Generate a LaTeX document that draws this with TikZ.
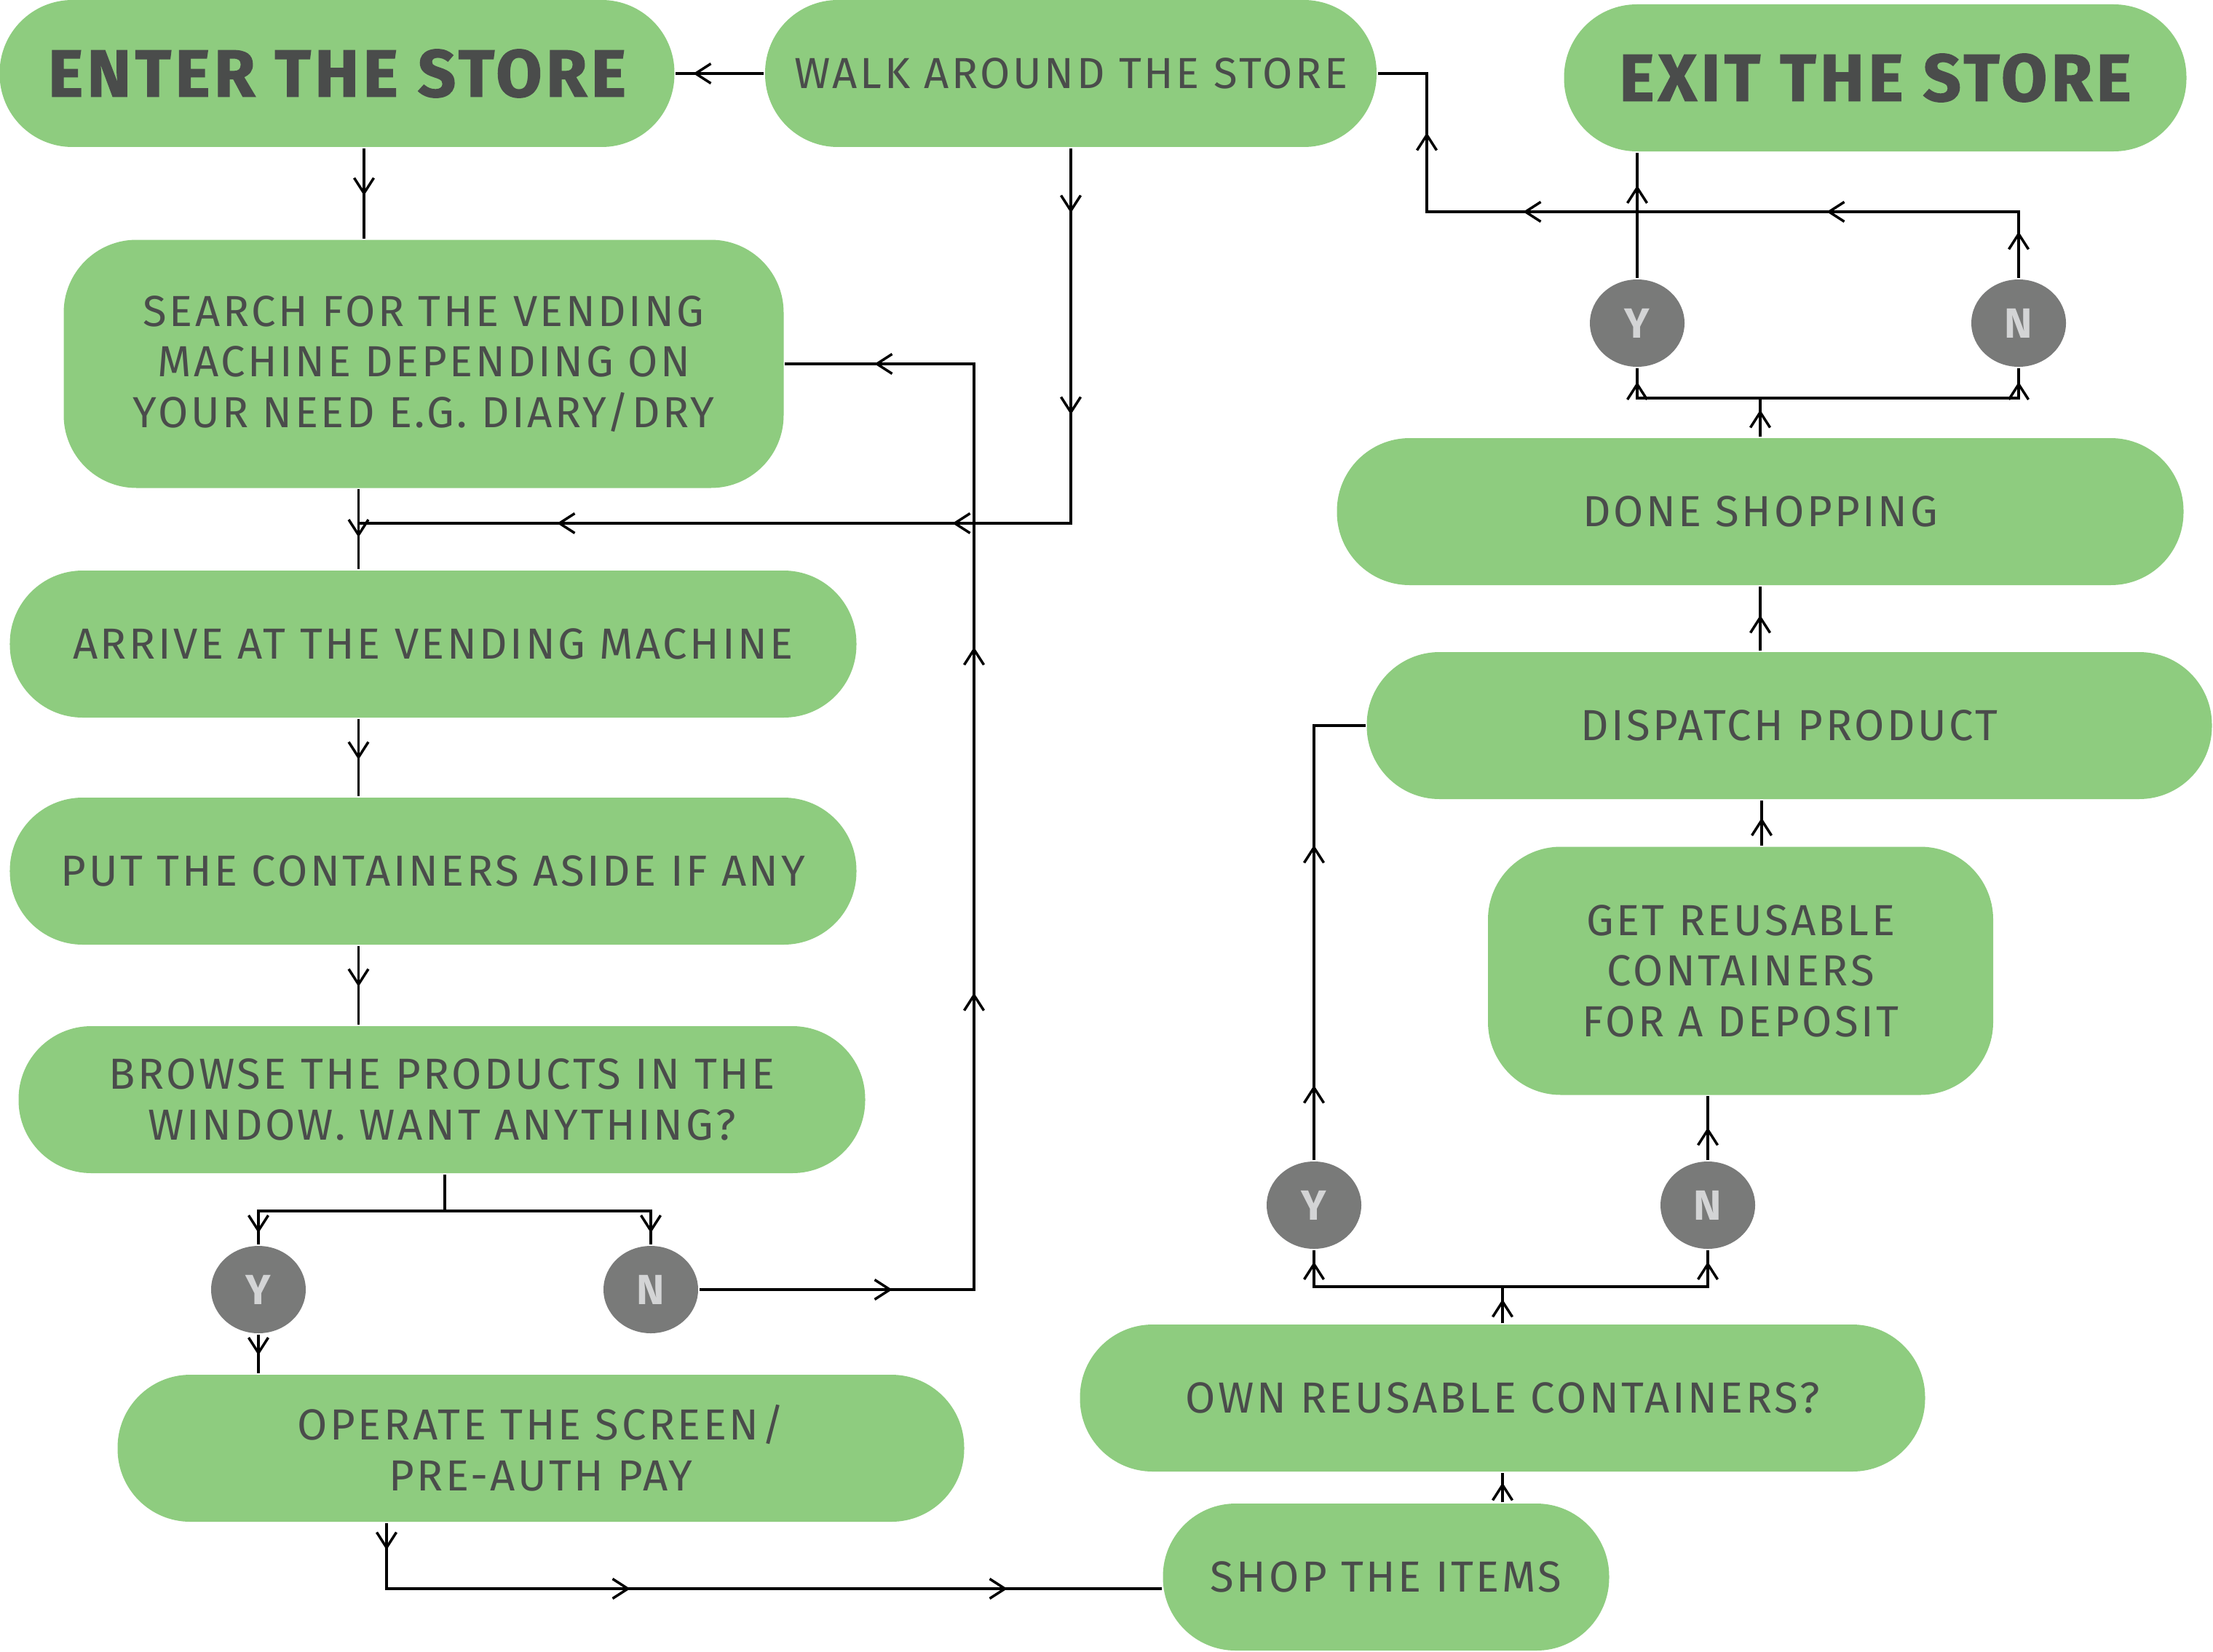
\documentclass[tikz,border=0pt]{standalone}
\usepackage{fontspec}
\setmainfont{Fira Sans}
\newfontfamily\bodyfont[LetterSpace=6]{Fira Sans}
\newfontfamily\headfont[LetterSpace=6,BoldFeatures={FakeBold=1.5}]{Fira Sans}
\usetikzlibrary{arrows.meta,shapes.geometric,decorations.markings}
\definecolor{boxgreen}{RGB}{142,204,127}
\definecolor{txtgrey}{RGB}{74,76,75}
\definecolor{dotgrey}{RGB}{121,122,121}
\definecolor{dottxt}{RGB}{211,212,213}
\begin{document}
\begin{tikzpicture}[line width=1pt,
  stepbox/.style={fill=boxgreen,rounded corners=1cm,minimum height=2.02cm,inner sep=0pt,align=center,text=txtgrey,font=\bodyfont\fontsize{17}{19.8}\selectfont},
  headbox/.style={stepbox,font=\headfont\fontsize{26}{30}\selectfont\bfseries},
  ynode/.style={ellipse,fill=dotgrey,minimum width=1.3cm,minimum height=1.2cm,inner sep=0pt,text=dottxt,font=\fontsize{16.5}{19}\selectfont\bfseries},
  midarr/.style={postaction={decorate,decoration={markings,mark=at position #1 with {\arrow{Straight Barb[length=2.1mm,width=2.7mm]}}}}}]
  \useasboundingbox (0,0) rectangle (30.4,-22.69);
  \node[headbox,minimum width=9.27cm] (enter) at (4.63,-1.01) {ENTER THE STORE};
  \node[stepbox,minimum width=8.40cm] (walk) at (14.71,-1.01) {WALK AROUND THE STORE};
  \node[headbox,minimum width=8.55cm] (exit) at (25.76,-1.07) {EXIT THE STORE};
  \node[stepbox,minimum width=9.89cm,minimum height=3.41cm] (search) at (5.82,-5.00) {SEARCH FOR THE VENDING\\MACHINE DEPENDING ON\\YOUR NEED E.G. DIARY/DRY};
  \node[stepbox,minimum width=11.63cm] (arrive) at (5.95,-8.85) {ARRIVE AT THE VENDING MACHINE};
  \node[stepbox,minimum width=11.63cm] (put) at (5.95,-11.97) {PUT THE CONTAINERS ASIDE IF ANY};
  \node[stepbox,minimum width=11.63cm] (browse) at (6.07,-15.11) {BROWSE THE PRODUCTS IN THE\\WINDOW. WANT ANYTHING?};
  \node[ynode] (yL) at (3.55,-17.72) {Y};
  \node[ynode] (nL) at (8.94,-17.72) {N};
  \node[stepbox,minimum width=11.63cm] (operate) at (7.43,-19.90) {OPERATE THE SCREEN/\\PRE-AUTH PAY};
  \node[stepbox,minimum width=6.13cm] (shop) at (19.04,-21.67) {SHOP THE ITEMS};
  \node[stepbox,minimum width=11.61cm] (own) at (20.64,-19.21) {OWN REUSABLE CONTAINERS?};
  \node[ynode] (yR) at (18.05,-16.56) {Y};
  \node[ynode] (nR) at (23.46,-16.56) {N};
  \node[stepbox,minimum width=6.94cm,minimum height=3.41cm] (get) at (23.91,-13.34) {GET REUSABLE\\CONTAINERS\\FOR A DEPOSIT};
  \node[stepbox,minimum width=11.61cm] (dispatch) at (24.58,-9.97) {DISPATCH PRODUCT};
  \node[stepbox,minimum width=11.63cm] (done) at (24.18,-7.03) {DONE SHOPPING};
  \node[ynode] (yT) at (22.49,-4.44) {Y};
  \node[ynode] (nT) at (27.73,-4.44) {N};
  \coordinate (j1) at (4.925,-7.19);
  \coordinate (j2) at (6.11,-16.64);
  \coordinate (j3) at (20.64,-17.68);
  \coordinate (j4) at (24.18,-5.47);
  \coordinate (c1) at (19.60,-2.91);
  \draw[midarr=0.97cm] (walk.west) -- (enter.east);
  \draw[midarr=0.65cm] (5.00,0 |- enter.south) -- (5.00,0 |- search.north);
  \draw[midarr=0.66cm] (4.925,0 |- search.south) -- (4.925,0 |- arrive.north);
  \draw[midarr=0.89cm,midarr=3.66cm,midarr=6.78cm,midarr=12.21cm] (walk.south) |- (j1);
  \draw[midarr=0.56cm] (4.925,0 |- arrive.south) -- (4.925,0 |- put.north);
  \draw[midarr=0.56cm] (4.925,0 |- put.south) -- (4.925,0 |- browse.north);
  \draw (6.11,0 |- browse.south) -- (j2);
  \draw[midarr=-0.16cm] (j2) -| (yL);
  \draw[midarr=-0.16cm] (j2) -| (nL);
  \draw[midarr=-0.25cm] (yL) -- (yL |- operate.north);
  \draw[midarr=2.65cm,midarr=7.85cm,midarr=12.60cm,midarr=17.86cm] (nL) -- (nL -| 13.38,0) |- (search);
  \draw[midarr=0.37cm,midarr=4.25cm,midarr=9.43cm] (5.31,0 |- operate.south) |- (shop.west |- 0,-21.83);
  \draw[midarr=0.27cm] (own.south |- shop.north) -- (own.south);
  \draw[midarr=0.33cm] (own.north) -- (j3);
  \draw[midarr=-0.16cm] (j3) -| (yR);
  \draw[midarr=-0.16cm] (j3) -| (nR);
  \draw[midarr=0.45cm] (nR) -- (nR |- get.south);
  \draw[midarr=1.03cm,midarr=4.33cm] (yR) |- (dispatch);
  \draw[midarr=0.38cm] (24.20,0 |- get.north) -- (24.20,0 |- dispatch.south);
  \draw[midarr=0.49cm] (done.south |- dispatch.north) -- (done.south);
  \draw[midarr=0.37cm] (done.north) -- (j4);
  \draw[midarr=-0.19cm] (j4) -| (yT);
  \draw[midarr=-0.19cm] (j4) -| (nT);
  \draw[midarr=-0.45cm] (yT) -- (yT |- exit.south);
  \draw[midarr=0.64cm,midarr=3.55cm,midarr=7.72cm,midarr=10.13cm] (nT) |- (c1) |- (walk.east);
\end{tikzpicture}
\end{document}
